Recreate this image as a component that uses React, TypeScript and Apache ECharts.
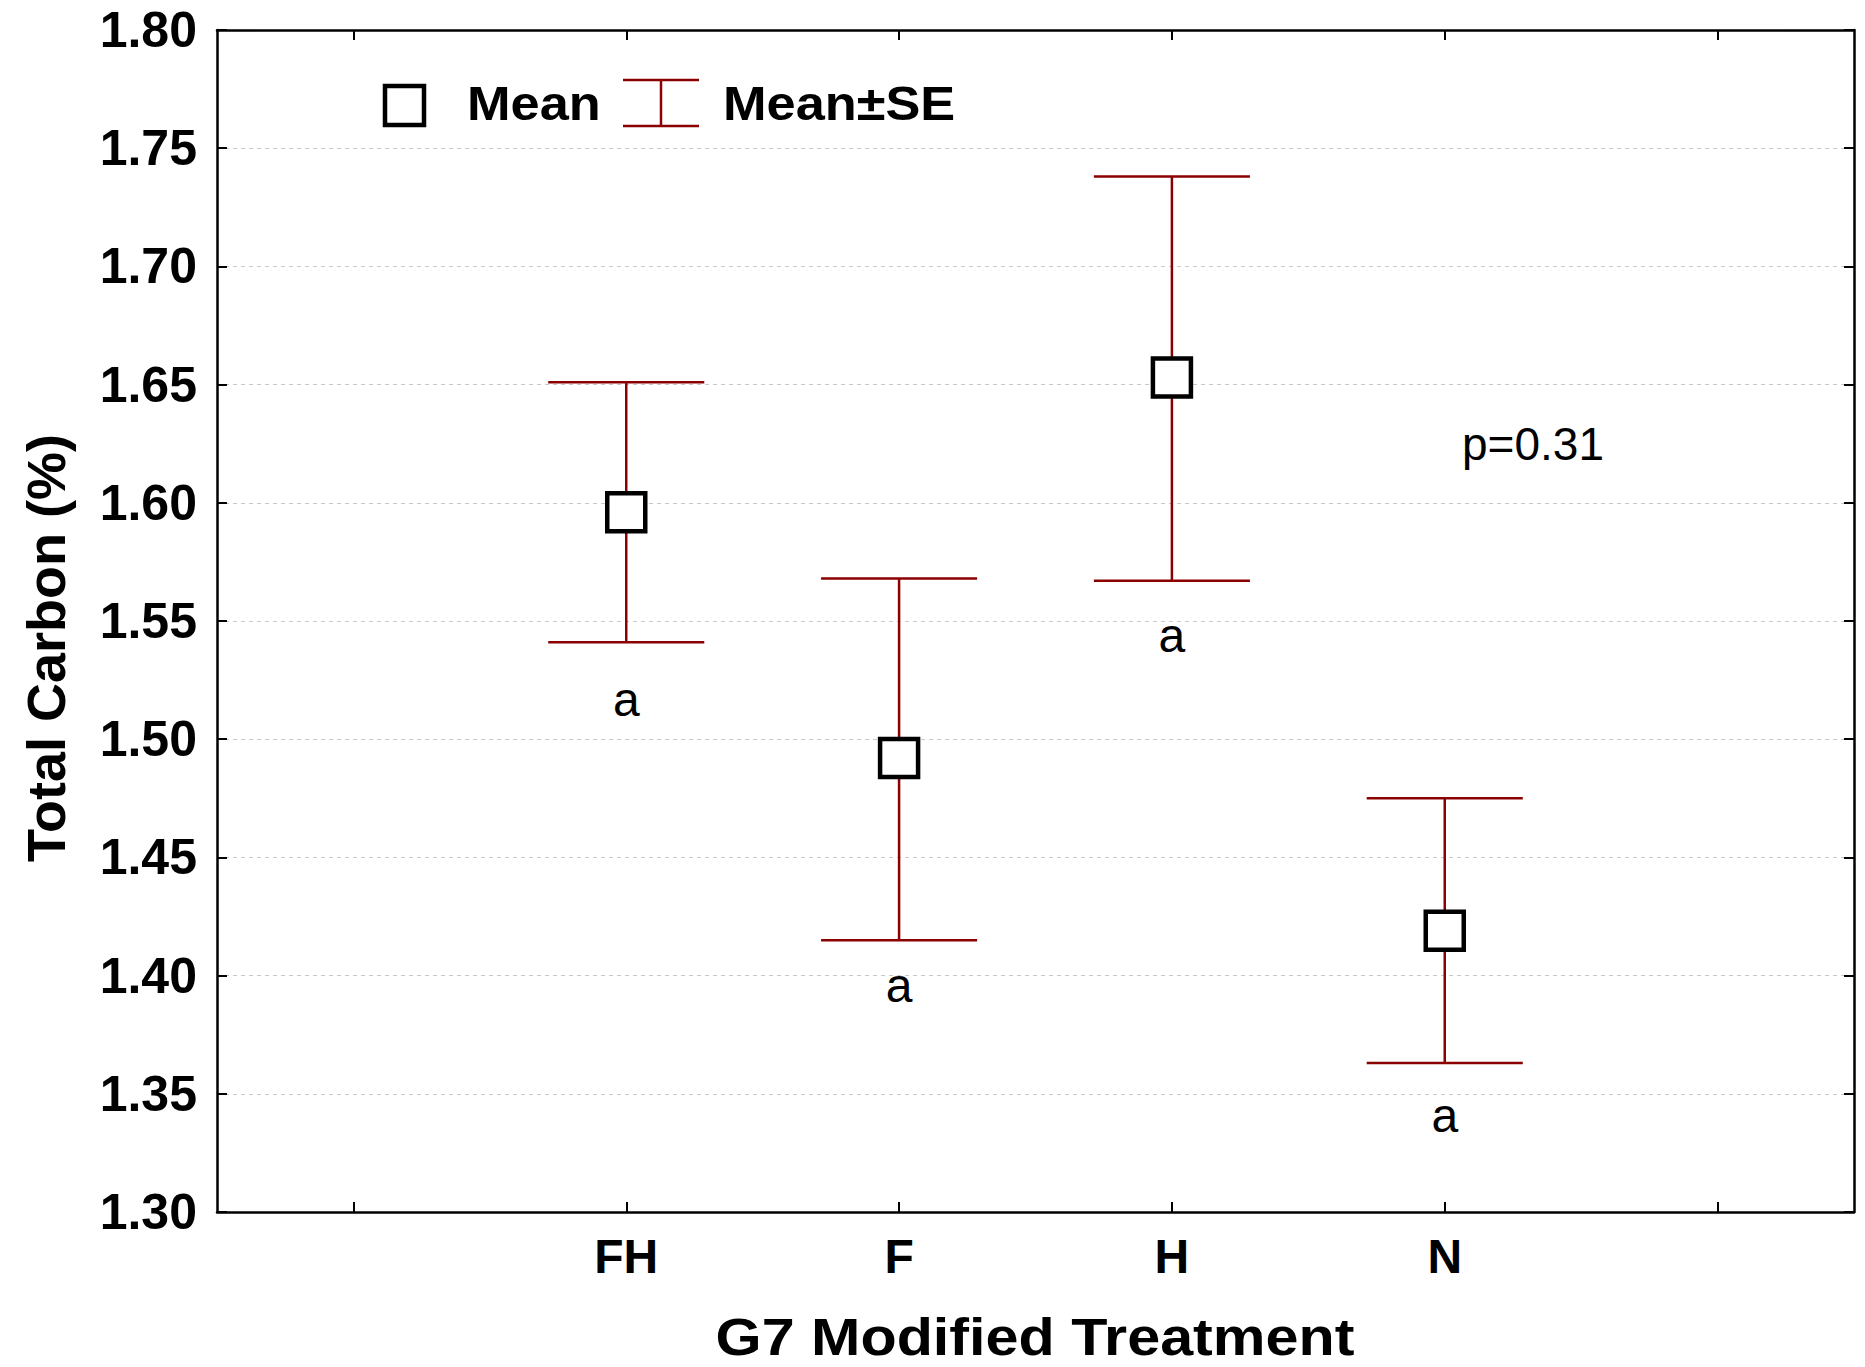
import React, { useEffect, useRef } from "react";
import * as echarts from "echarts";

// ---- Data ----
const treatments = ["FH", "F", "H", "N"];
const axisCategories = ["", ...treatments, ""];
const means = [1.596, 1.492, 1.653, 1.419];
const seUpper = [1.651, 1.568, 1.738, 1.475];
const seLower = [1.541, 1.415, 1.567, 1.363];
const letters = ["a", "a", "a", "a"];
const letterY = [1.517, 1.396, 1.544, 1.341];
const yTicksMin = 1.3;
const yTicksMax = 1.8;
const yTickStep = 0.05;
const pValueText = "p=0.31";

const FONT = "'Liberation Sans', Arial, Helvetica, sans-serif";
const ERR_COLOR = "#8b0000";

export default function App() {
  const ref = useRef<HTMLDivElement>(null);

  useEffect(() => {
    document.body.style.margin = "0";
    const chart = echarts.init(ref.current!, null, { renderer: "svg" });

    const errData = treatments.map((_, i) => [i + 1, seLower[i], seUpper[i]]);
    const meanData = treatments.map((_, i) => [i + 1, means[i]]);
    const letterData = treatments.map((_, i) => [i + 1, letterY[i]]);

    const axisLineStyle = { color: "#000", width: 2.5 };
    const tickStyle = { color: "#000", width: 2 };

    chart.setOption({
      animation: false,
      backgroundColor: "#fff",
      grid: { left: 217, right: 11, top: 30, bottom: 155, containLabel: false },
      xAxis: [
        {
          type: "category",
          data: axisCategories,
          position: "bottom",
          boundaryGap: true,
          axisLine: { show: true, lineStyle: axisLineStyle },
          axisTick: { show: true, inside: true, alignWithLabel: true, interval: 0, length: 10, lineStyle: tickStyle },
          axisLabel: { show: true, interval: 0, fontSize: 48, fontWeight: "bold", color: "#000", fontFamily: FONT, margin: 20 },
          splitLine: { show: false },
        },
        {
          type: "category",
          data: axisCategories,
          position: "top",
          boundaryGap: true,
          axisLine: { show: true, lineStyle: axisLineStyle },
          axisTick: { show: true, inside: true, alignWithLabel: true, interval: 0, length: 10, lineStyle: tickStyle },
          axisLabel: { show: false },
          splitLine: { show: false },
        },
      ],
      yAxis: [
        {
          type: "value",
          min: yTicksMin,
          max: yTicksMax,
          interval: yTickStep,
          position: "left",
          axisLine: { show: true, lineStyle: axisLineStyle },
          axisTick: { show: true, inside: true, length: 10, lineStyle: tickStyle },
          axisLabel: {
            fontSize: 50,
            fontWeight: "bold",
            color: "#000",
            fontFamily: FONT,
            margin: 20,
            formatter: (v: number) => v.toFixed(2),
          },
          splitLine: { show: true, lineStyle: { color: "#c8c8c8", width: 1, type: [4, 4] } },
        },
        {
          type: "value",
          min: yTicksMin,
          max: yTicksMax,
          interval: yTickStep,
          position: "right",
          axisLine: { show: true, lineStyle: axisLineStyle },
          axisTick: { show: true, inside: true, length: 10, lineStyle: tickStyle },
          axisLabel: { show: false },
          splitLine: { show: false },
        },
      ],
      series: [
        {
          name: "Mean±SE",
          type: "custom",
          xAxisIndex: 0,
          yAxisIndex: 0,
          data: errData,
          encode: { x: 0, y: [1, 2] },
          z: 2,
          renderItem: (params: any, api: any) => {
            const x = api.value(0);
            const lo = api.value(1);
            const hi = api.value(2);
            const pHi = api.coord([x, hi]);
            const pLo = api.coord([x, lo]);
            const half = api.size([1, 0])[0] * 0.286;
            const style = { stroke: ERR_COLOR, lineWidth: 2.5, fill: null };
            return {
              type: "group",
              children: [
                { type: "line", shape: { x1: pHi[0], y1: pHi[1], x2: pLo[0], y2: pLo[1] }, style },
                { type: "line", shape: { x1: pHi[0] - half, y1: pHi[1], x2: pHi[0] + half, y2: pHi[1] }, style },
                { type: "line", shape: { x1: pLo[0] - half, y1: pLo[1], x2: pLo[0] + half, y2: pLo[1] }, style },
              ],
            };
          },
        },
        {
          name: "Mean",
          type: "scatter",
          xAxisIndex: 0,
          yAxisIndex: 0,
          data: meanData,
          symbol: "rect",
          symbolSize: 38,
          z: 5,
          itemStyle: { color: "#fff", borderColor: "#000", borderWidth: 4.5, opacity: 1 },
        },
        {
          name: "letters",
          type: "custom",
          xAxisIndex: 0,
          yAxisIndex: 0,
          data: letterData,
          encode: { x: 0, y: 1 },
          silent: true,
          z: 6,
          renderItem: (params: any, api: any) => {
            const p = api.coord([api.value(0), api.value(1)]);
            return {
              type: "text",
              x: p[0],
              y: p[1],
              style: {
                text: letters[params.dataIndex],
                fontSize: 48,
                fontFamily: FONT,
                fill: "#000",
                textAlign: "center",
                textVerticalAlign: "middle",
              },
            };
          },
        },
      ],
      graphic: [
        // Legend
        {
          type: "rect",
          shape: { x: 385, y: 86, width: 39, height: 39 },
          style: { fill: "#fff", stroke: "#000", lineWidth: 4.5 },
          z: 10,
        },
        {
          type: "text",
          x: 467,
          y: 104,
          scaleX: 1.09,
          style: { text: "Mean", fontSize: 48, fontWeight: "bold", fontFamily: FONT, fill: "#000", textAlign: "left", textVerticalAlign: "middle" },
          z: 10,
        },
        { type: "line", shape: { x1: 623, y1: 80, x2: 699, y2: 80 }, style: { stroke: ERR_COLOR, lineWidth: 2.5 }, z: 10 },
        { type: "line", shape: { x1: 623, y1: 126, x2: 699, y2: 126 }, style: { stroke: ERR_COLOR, lineWidth: 2.5 }, z: 10 },
        { type: "line", shape: { x1: 661, y1: 80, x2: 661, y2: 126 }, style: { stroke: ERR_COLOR, lineWidth: 2.5 }, z: 10 },
        {
          type: "text",
          x: 723,
          y: 104,
          scaleX: 1.09,
          style: { text: "Mean±SE", fontSize: 48, fontWeight: "bold", fontFamily: FONT, fill: "#000", textAlign: "left", textVerticalAlign: "middle" },
          z: 10,
        },
        // p-value
        {
          type: "text",
          x: 1533,
          y: 444,
          style: { text: pValueText, fontSize: 46, fontFamily: FONT, fill: "#000", textAlign: "center", textVerticalAlign: "middle" },
          z: 10,
        },
        // Axis titles
        {
          type: "text",
          x: 46,
          y: 648,
          rotation: Math.PI / 2,
          style: { text: "Total Carbon (%)", fontSize: 54, fontWeight: "bold", fontFamily: FONT, fill: "#000", textAlign: "center", textVerticalAlign: "middle" },
          z: 10,
        },
        {
          type: "text",
          x: 1035,
          y: 1337,
          scaleX: 1.14,
          style: { text: "G7 Modified Treatment", fontSize: 52, fontWeight: "bold", fontFamily: FONT, fill: "#000", textAlign: "center", textVerticalAlign: "middle" },
          z: 10,
        },
      ],
    });

    return () => {
      chart.dispose();
    };
  }, []);

  return <div ref={ref} style={{ width: 1865, height: 1367 }} />;
}
